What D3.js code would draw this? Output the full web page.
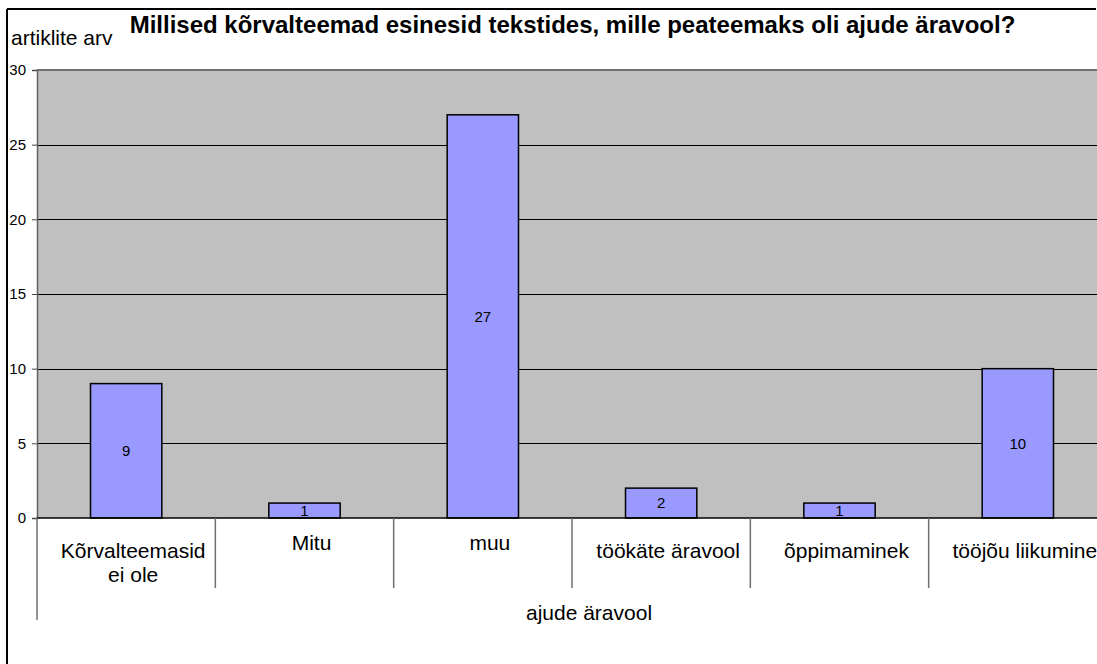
<!DOCTYPE html>
<html>
<head>
<meta charset="utf-8">
<script src="https://cdn.jsdelivr.net/npm/d3@7"></script>
<style>
  html, body { margin: 0; padding: 0; background: #fff; overflow: hidden; }
  svg { display: block; font-family: "Liberation Sans", Arial, sans-serif; }
</style>
</head>
<body>
<svg id="chart" width="1097" height="664"></svg>
<script>
const categories = ["Kõrvalteemasid ei ole", "Mitu", "muu", "töökäte äravool", "õppimaminek", "tööjõu liikumine"];
const categoryLines = [["Kõrvalteemasid", "ei ole"], ["Mitu"], ["muu"], ["töökäte äravool"], ["õppimaminek"], ["tööjõu liikumine"]];
const values = [9, 1, 27, 2, 1, 10];
const yTicks = [0, 5, 10, 15, 20, 25, 30];
const titleText = "Millised kõrvalteemad esinesid tekstides, mille peateemaks oli ajude äravool?";
const yTitle = "artiklite arv";
const xTitle = "ajude äravool";

const svg = d3.select("#chart");
const pLeft = 37, pRight = 1107, pTop = 70, pBottom = 518;

const x = d3.scaleBand().domain(categories).range([pLeft, pRight]).paddingInner(0.6).paddingOuter(0.3);
const xCat = d3.scaleBand().domain(categories).range([pLeft, pRight]).padding(0);
const y = d3.scaleLinear().domain([0, 30]).range([pBottom, pTop]);
const crisp = v => Math.round(v) + 0.5;

// outer chart border (left & top visible)
svg.append("line").attr("x1", 7).attr("x2", 7).attr("y1", 9).attr("y2", 664).attr("stroke", "#000").attr("stroke-width", 2);
svg.append("line").attr("x1", 7).attr("x2", 1096).attr("y1", 9).attr("y2", 9).attr("stroke", "#000").attr("stroke-width", 2);

// plot area
svg.append("rect").attr("x", pLeft).attr("y", pTop).attr("width", pRight - pLeft).attr("height", pBottom - pTop).attr("fill", "#c0c0c0");

// gridlines
svg.append("g").selectAll("line").data(yTicks.filter(d => d > 0 && d < 30)).join("line")
  .attr("x1", pLeft).attr("x2", pRight)
  .attr("y1", d => crisp(y(d))).attr("y2", d => crisp(y(d)))
  .attr("stroke", "#000").attr("stroke-width", 1);
svg.append("line").attr("x1", pLeft).attr("x2", pRight).attr("y1", y(30)).attr("y2", y(30))
  .attr("stroke", "#707070").attr("stroke-width", 2);

// y axis
const yAxis = d3.axisLeft(y).tickValues(yTicks).tickSize(5).tickPadding(6);
const gy = svg.append("g").attr("transform", `translate(${pLeft},0)`).call(yAxis);
gy.select(".domain").attr("stroke", "#606060").attr("stroke-width", 1.5);
gy.selectAll(".tick line").attr("stroke", "#404040");
gy.selectAll(".tick text").attr("font-size", 15).attr("fill", "#000")
  .attr("font-family", "'Liberation Sans', Arial, sans-serif").attr("x", -11);

// bars
svg.append("g").selectAll("rect").data(values).join("rect")
  .attr("x", (d, i) => x(categories[i]))
  .attr("y", d => y(d))
  .attr("width", x.bandwidth())
  .attr("height", d => y(0) - y(d))
  .attr("fill", "#9999ff")
  .attr("stroke", "#000").attr("stroke-width", 1.5);

// value labels
svg.append("g").selectAll("text").data(values).join("text")
  .attr("x", (d, i) => x(categories[i]) + x.bandwidth() / 2)
  .attr("y", d => (y(d) + y(0)) / 2)
  .attr("dy", "0.36em")
  .attr("text-anchor", "middle")
  .attr("font-size", 15)
  .attr("fill", "#000")
  .text(d => d);

// baseline
svg.append("line").attr("x1", pLeft).attr("x2", pRight).attr("y1", y(0)).attr("y2", y(0))
  .attr("stroke", "#000").attr("stroke-width", 1.5);

// category separators
svg.append("g").selectAll("line").data(categories.slice(1)).join("line")
  .attr("x1", d => xCat(d)).attr("x2", d => xCat(d))
  .attr("y1", y(0)).attr("y2", 588)
  .attr("stroke", "#707070").attr("stroke-width", 1.5);
svg.append("line").attr("x1", pLeft).attr("x2", pLeft).attr("y1", y(0)).attr("y2", 620)
  .attr("stroke", "#707070").attr("stroke-width", 1.5);

// category labels
const catG = svg.append("g").selectAll("text").data(categories).join("text")
  .attr("text-anchor", "middle")
  .attr("font-size", 21)
  .attr("fill", "#000")
  .attr("transform", (d, i) => {
    const cx = xCat(d) + xCat.bandwidth() / 2 + 7;
    const by = categoryLines[i][0].length <= 4 ? 550 : 558;
    return `translate(${cx},${by})`;
  });
catG.selectAll("tspan").data((d, i) => categoryLines[i]).join("tspan")
  .attr("x", 0).attr("y", (d, j) => j * 24).text(d => d);

// axis titles
svg.append("text").attr("x", 589).attr("y", 620).attr("text-anchor", "middle")
  .attr("font-size", 21).attr("fill", "#000").text(xTitle);
svg.append("text").attr("x", 11).attr("y", 45)
  .attr("font-size", 21).attr("fill", "#000").text(yTitle);

// title
svg.append("text").attr("x", 572.5).attr("y", 33).attr("text-anchor", "middle")
  .attr("font-size", 24).attr("font-weight", "bold").attr("fill", "#000").text(titleText);
</script>
</body>
</html>
